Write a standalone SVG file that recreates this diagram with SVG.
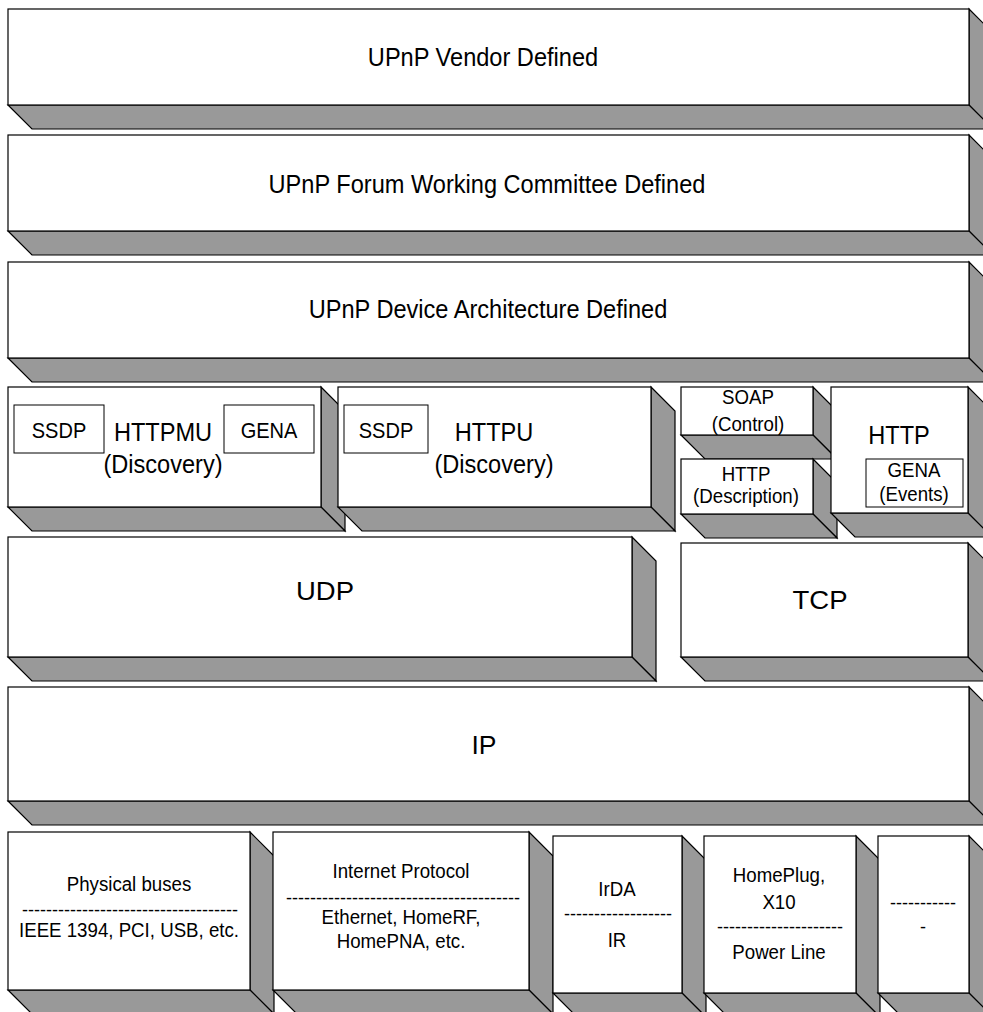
<svg xmlns="http://www.w3.org/2000/svg" width="983" height="1012" viewBox="0 0 983 1012">
  <style>
    .front { fill: #ffffff; stroke: #000000; stroke-width: 1.2; }
    .shade { fill: #999999; stroke: #000000; stroke-width: 1.2; stroke-linejoin: miter; }
    .inner { fill: #ffffff; stroke: #000000; stroke-width: 1; }
    text { font-family: "Liberation Sans", Arial, Helvetica, sans-serif; fill: #000000; text-anchor: middle; }
    .big { font-size: 26.5px; }
    .mid { font-size: 22.5px; }
    .small { font-size: 21px; }
    .rule { font-size: 18px; }
  </style>
  <rect x="0" y="0" width="983" height="1012" fill="#ffffff"/>

  <!-- Layers: front face, right side and bottom face (depth 24).
       Labels use a slightly condensed face: scale(0.89, 1) about the label centre. -->
  <g id="vendor">
    <polygon class="shade" points="969,9 993,33 993,129 969,105"/>
    <polygon class="shade" points="8,105 969,105 993,129 32,129"/>
    <rect class="front" x="8" y="9" width="961" height="96"/>
    <text class="big" transform="matrix(0.89 0 0 1 483 0)" x="0" y="66">UPnP Vendor Defined</text>
  </g>

  <g id="forum">
    <polygon class="shade" points="969,135 993,159 993,255 969,231"/>
    <polygon class="shade" points="8,231 969,231 993,255 32,255"/>
    <rect class="front" x="8" y="135" width="961" height="96"/>
    <text class="big" transform="matrix(0.89 0 0 1 487 0)" x="0" y="193">UPnP Forum Working Committee Defined</text>
  </g>

  <g id="device-arch">
    <polygon class="shade" points="969,262 993,286 993,382 969,358"/>
    <polygon class="shade" points="8,358 969,358 993,382 32,382"/>
    <rect class="front" x="8" y="262" width="961" height="96"/>
    <text class="big" transform="matrix(0.89 0 0 1 488 0)" x="0" y="318">UPnP Device Architecture Defined</text>
  </g>

  <g id="httpmu">
    <polygon class="shade" points="321,387 345,411 345,531 321,507"/>
    <polygon class="shade" points="8,507 321,507 345,531 32,531"/>
    <rect class="front" x="8" y="387" width="313" height="120"/>
    <rect class="inner" x="14" y="405" width="90" height="48"/>
    <text class="mid" transform="matrix(0.89 0 0 1 59 0)" x="0" y="438">SSDP</text>
    <rect class="inner" x="224" y="405" width="90" height="48"/>
    <text class="mid" transform="matrix(0.89 0 0 1 269 0)" x="0" y="438">GENA</text>
    <text class="big" transform="matrix(0.89 0 0 1 163 0)" x="0" y="441">HTTPMU</text>
    <text class="big" transform="matrix(0.89 0 0 1 163 0)" x="0" y="473">(Discovery)</text>
  </g>

  <g id="httpu">
    <polygon class="shade" points="651,387 675,411 675,531 651,507"/>
    <polygon class="shade" points="338,507 651,507 675,531 362,531"/>
    <rect class="front" x="338" y="387" width="313" height="120"/>
    <rect class="inner" x="344" y="405" width="84" height="48"/>
    <text class="mid" transform="matrix(0.89 0 0 1 386 0)" x="0" y="438">SSDP</text>
    <text class="big" transform="matrix(0.89 0 0 1 494 0)" x="0" y="441">HTTPU</text>
    <text class="big" transform="matrix(0.89 0 0 1 494 0)" x="0" y="473">(Discovery)</text>
  </g>

  <g id="soap">
    <polygon class="shade" points="813,387 837,411 837,459 813,435"/>
    <polygon class="shade" points="681,435 813,435 837,459 705,459"/>
    <rect class="front" x="681" y="387" width="132" height="48"/>
    <text class="small" transform="matrix(0.89 0 0 1 748 0)" x="0" y="404">SOAP</text>
    <text class="small" transform="matrix(0.89 0 0 1 748 0)" x="0" y="431">(Control)</text>
  </g>

  <g id="http-description">
    <polygon class="shade" points="813,459 837,483 837,538 813,514"/>
    <polygon class="shade" points="681,514 813,514 837,538 705,538"/>
    <rect class="front" x="681" y="459" width="132" height="55"/>
    <text class="small" transform="matrix(0.89 0 0 1 746 0)" x="0" y="481">HTTP</text>
    <text class="small" transform="matrix(0.89 0 0 1 746 0)" x="0" y="503">(Description)</text>
  </g>

  <g id="http">
    <polygon class="shade" points="968,387 992,411 992,537 968,513"/>
    <polygon class="shade" points="831,513 968,513 992,537 855,537"/>
    <rect class="front" x="831" y="387" width="137" height="126"/>
    <text class="big" transform="matrix(0.89 0 0 1 899 0)" x="0" y="444">HTTP</text>
    <rect class="inner" x="866" y="459" width="97" height="48"/>
    <text class="small" transform="matrix(0.89 0 0 1 914 0)" x="0" y="477">GENA</text>
    <text class="small" transform="matrix(0.89 0 0 1 914 0)" x="0" y="501">(Events)</text>
  </g>

  <g id="udp">
    <polygon class="shade" points="632,537 656,561 656,681 632,657"/>
    <polygon class="shade" points="8,657 632,657 656,681 32,681"/>
    <rect class="front" x="8" y="537" width="624" height="120"/>
    <text class="big" x="325" y="600" textLength="58" lengthAdjust="spacingAndGlyphs">UDP</text>
  </g>

  <g id="tcp">
    <polygon class="shade" points="968,543 992,567 992,681 968,657"/>
    <polygon class="shade" points="681,657 968,657 992,681 705,681"/>
    <rect class="front" x="681" y="543" width="287" height="114"/>
    <text class="big" x="820" y="609" textLength="55" lengthAdjust="spacingAndGlyphs">TCP</text>
  </g>

  <g id="ip">
    <polygon class="shade" points="969,687 993,711 993,825 969,801"/>
    <polygon class="shade" points="8,801 969,801 993,825 32,825"/>
    <rect class="front" x="8" y="687" width="961" height="114"/>
    <text class="big" x="484" y="754">IP</text>
  </g>

  <g id="physical-buses">
    <polygon class="shade" points="250,832 274,856 274,1014 250,990"/>
    <polygon class="shade" points="8,990 250,990 274,1014 32,1014"/>
    <rect class="front" x="8" y="832" width="242" height="158"/>
    <text class="small" transform="matrix(0.89 0 0 1 129 0)" x="0" y="891">Physical buses</text>
    <text class="rule" x="130" y="916">------------------------------------</text>
    <text class="small" transform="matrix(0.89 0 0 1 129 0)" x="0" y="937">IEEE 1394, PCI, USB, etc.</text>
  </g>

  <g id="internet-protocol">
    <polygon class="shade" points="529,832 553,856 553,1014 529,990"/>
    <polygon class="shade" points="273,990 529,990 553,1014 297,1014"/>
    <rect class="front" x="273" y="832" width="256" height="158"/>
    <text class="small" transform="matrix(0.89 0 0 1 401 0)" x="0" y="878">Internet Protocol</text>
    <text class="rule" x="403" y="904">---------------------------------------</text>
    <text class="small" transform="matrix(0.89 0 0 1 401 0)" x="0" y="924">Ethernet, HomeRF,</text>
    <text class="small" transform="matrix(0.89 0 0 1 401 0)" x="0" y="948">HomePNA, etc.</text>
  </g>

  <g id="irda">
    <polygon class="shade" points="682,836 706,860 706,1017 682,993"/>
    <polygon class="shade" points="553,993 682,993 706,1017 577,1017"/>
    <rect class="front" x="553" y="836" width="129" height="157"/>
    <text class="small" transform="matrix(0.89 0 0 1 617 0)" x="0" y="896">IrDA</text>
    <text class="rule" x="618" y="920">------------------</text>
    <text class="small" transform="matrix(0.89 0 0 1 617 0)" x="0" y="947">IR</text>
  </g>

  <g id="homeplug">
    <polygon class="shade" points="856,836 880,860 880,1017 856,993"/>
    <polygon class="shade" points="704,993 856,993 880,1017 728,1017"/>
    <rect class="front" x="704" y="836" width="152" height="157"/>
    <text class="small" transform="matrix(0.89 0 0 1 779 0)" x="0" y="882">HomePlug,</text>
    <text class="small" transform="matrix(0.89 0 0 1 779 0)" x="0" y="909">X10</text>
    <text class="rule" x="780" y="933">---------------------</text>
    <text class="small" transform="matrix(0.89 0 0 1 779 0)" x="0" y="959">Power Line</text>
  </g>

  <g id="unnamed">
    <polygon class="shade" points="969,836 993,860 993,1017 969,993"/>
    <polygon class="shade" points="878,993 969,993 993,1017 902,1017"/>
    <rect class="front" x="878" y="836" width="91" height="157"/>
    <text class="rule" x="923" y="909">-----------</text>
    <text class="rule" x="923" y="933">-</text>
  </g>

  <g id="connectors"/>
</svg>
